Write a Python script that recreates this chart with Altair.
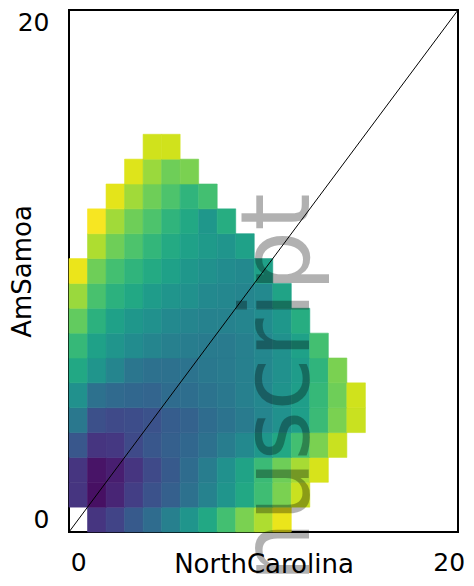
import altair as alt
import pandas as pd

N = None
# grid values (row index = AmSamoa bin, column index = NorthCarolina bin), None = masked
row0 = [N, 0.15, 0.20, 0.28, 0.35, 0.43, 0.52, 0.60, 0.70, 0.80, 0.88, 0.97]
row1 = [0.15, 0.04, 0.10, 0.18, 0.25, 0.30, 0.37, 0.44, 0.52, 0.60, 0.69, 0.80, 0.92]
row2 = [0.15, 0.05, 0.08, 0.15, 0.22, 0.28, 0.35, 0.42, 0.50, 0.58, 0.68, 0.78, 0.87, 0.94]
row3 = [0.27, 0.15, 0.16, 0.22, 0.27, 0.30, 0.33, 0.37, 0.42, 0.47, 0.53, 0.60, 0.70, 0.80, 0.92]
row4 = [0.40, 0.24, 0.22, 0.23, 0.25, 0.29, 0.31, 0.35, 0.38, 0.41, 0.45, 0.50, 0.56, 0.68, 0.80, 0.92]
row5 = [0.50, 0.37, 0.34, 0.33, 0.32, 0.35, 0.36, 0.38, 0.40, 0.43, 0.46, 0.51, 0.56, 0.67, 0.78, 0.93]
row6 = [0.60, 0.52, 0.45, 0.39, 0.37, 0.37, 0.38, 0.40, 0.41, 0.43, 0.46, 0.50, 0.55, 0.65, 0.80]
row7 = [0.67, 0.57, 0.52, 0.48, 0.45, 0.43, 0.42, 0.41, 0.41, 0.43, 0.46, 0.50, 0.57, 0.70]
row8 = [0.76, 0.64, 0.57, 0.53, 0.50, 0.47, 0.45, 0.44, 0.44, 0.45, 0.48, 0.53, 0.62]
row9 = [0.85, 0.71, 0.64, 0.60, 0.55, 0.52, 0.50, 0.47, 0.46, 0.45, 0.47, 0.58]
row10 = [0.97, 0.78, 0.70, 0.65, 0.61, 0.57, 0.53, 0.50, 0.48, 0.47, 0.57]
row11 = [N, 0.88, 0.78, 0.72, 0.66, 0.61, 0.57, 0.54, 0.52, 0.57]
row12 = [N, 0.99, 0.86, 0.78, 0.72, 0.65, 0.60, 0.53, 0.62]
row13 = [N, N, 0.96, 0.86, 0.78, 0.72, 0.65, 0.70]
row14 = [N, N, N, 0.95, 0.85, 0.78, 0.80]
row15 = [N, N, N, N, 0.93, 0.93]
rows = [row0, row1, row2, row3, row4, row5, row6, row7, row8, row9,
        row10, row11, row12, row13, row14, row15]

axis_ticks = [0, 20]
extent = [-0.5, 20.5]
x_title = "NorthCarolina"
y_title = "AmSamoa"
watermark = "manuscript"

recs = []
for j, r in enumerate(rows):
    for i, v in enumerate(r):
        if v is not None:
            recs.append({"x0": i - 0.5, "x1": i + 0.5, "y0": j - 0.5, "y1": j + 0.5, "v": v})
df = pd.DataFrame(recs)

FONT = "DejaVu Sans"
xs = alt.Scale(domain=extent, nice=False, zero=False)
ys = alt.Scale(domain=extent, nice=False, zero=False)
cs = alt.Scale(scheme="viridis", domain=[0, 1])

xaxis = alt.Axis(values=axis_ticks, ticks=False, domain=False, grid=False,
                 labelFontSize=25, labelFont=FONT, labelColor="black",
                 labelPadding=18, title=x_title, titleFontSize=26, titleFont=FONT,
                 titleFontWeight="normal", titleColor="black",
                 titleBaseline="alphabetic", titleY=40, labelFlush=False)
yaxis = alt.Axis(values=axis_ticks, ticks=False, domain=False, grid=False,
                 labelFontSize=25, labelFont=FONT, labelColor="black",
                 labelPadding=20, title=y_title, titleFontSize=26, titleFont=FONT,
                 titleFontWeight="normal", titleColor="black",
                 titleBaseline="alphabetic", titleX=-39, labelFlush=False)

cells = alt.Chart(df).mark_rect(strokeWidth=0.6).encode(
    x=alt.X("x0:Q", scale=xs, axis=xaxis),
    x2="x1:Q",
    y=alt.Y("y0:Q", scale=ys, axis=yaxis),
    y2="y1:Q",
    color=alt.Color("v:Q", scale=cs, legend=None),
    stroke=alt.Stroke("v:Q", scale=cs, legend=None),
)

diag = alt.Chart(pd.DataFrame({"a": extent, "b": extent})).mark_line(
    color="black", strokeWidth=1, clip=True).encode(
    x=alt.X("a:Q", scale=xs), y=alt.Y("b:Q", scale=ys))

wm = alt.Chart(pd.DataFrame({"t": [watermark]})).mark_text(
    angle=270, align="center", baseline="alphabetic", fontSize=96, font=FONT,
    color="black", opacity=0.3, clip=False).encode(
    text="t:N", x=alt.value(240), y=alt.value(454))

chart = (cells + diag + wm).properties(
    width=389, height=522,
    autosize=alt.AutoSizeParams(type="none"),
    padding={"left": 61, "top": 2, "right": 8, "bottom": 46},
).configure_view(stroke="black", strokeWidth=2)

chart.save("out.html", embed_options={"renderer": "svg", "actions": False})
